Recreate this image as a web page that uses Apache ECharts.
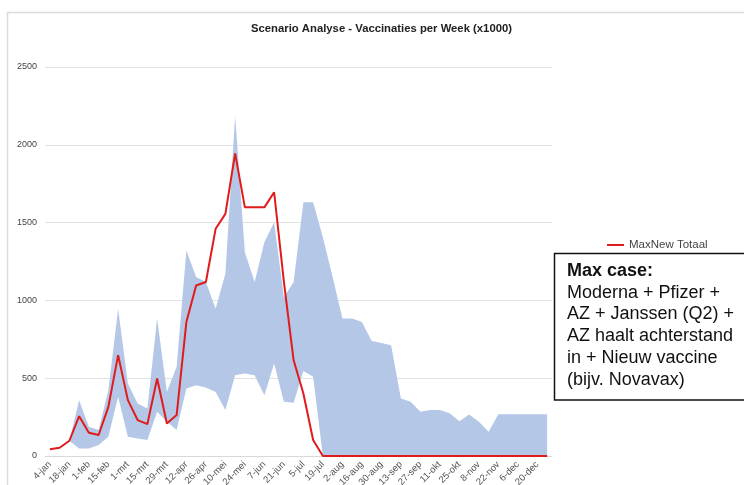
<!DOCTYPE html>
<html><head><meta charset="utf-8">
<script src="https://cdn.jsdelivr.net/npm/echarts@6/dist/echarts.min.js"></script>
<style>html,body{margin:0;padding:0;background:#fff}#c{width:744px;height:485px}</style>
</head><body><div id="c"></div>
<script>
const weeks = ['4-jan','11-jan','18-jan','25-jan','1-feb','8-feb','15-feb','22-feb','1-mrt','8-mrt','15-mrt','22-mrt','29-mrt','5-apr','12-apr','19-apr','26-apr','3-mei','10-mei','17-mei','24-mei','31-mei','7-jun','14-jun','21-jun','28-jun','5-jul','12-jul','19-jul','26-jul','2-aug','9-aug','16-aug','23-aug','30-aug','6-sep','13-sep','20-sep','27-sep','4-okt','11-okt','18-okt','25-okt','1-nov','8-nov','15-nov','22-nov','29-nov','6-dec','13-dec','20-dec','27-dec'];
const maxNewTotaal = [43,53,98,256,150,135,316,648,359,231,205,498,209,263,861,1096,1118,1460,1556,1945,1598,1598,1598,1695,1120,615,402,103,0,0,0,0,0,0,0,0,0,0,0,0,0,0,0,0,0,0,0,0,0,0,0,0];
const rangeUpper = [43,53,98,359,188,167,423,947,466,338,306,883,412,573,1321,1150,1118,947,1171,2186,1310,1118,1374,1502,1021,1118,1630,1630,1406,1150,883,883,861,739,727,712,370,348,284,295,295,274,224,267,220,156,269,269,269,269,269,269];
const rangeLower = [43,53,98,49,49,70,124,380,124,113,103,284,220,167,434,455,440,412,295,519,530,519,391,594,348,342,547,509,0,0,0,0,0,0,0,0,0,0,0,0,0,0,0,0,0,0,0,0,0,0,0,0];
const yTicks = [0,500,1000,1500,2000,2500];

const bandHeight = rangeUpper.map((u,i)=>u-rangeLower[i]);
const chart = echarts.init(document.getElementById('c'), null, {renderer:'canvas'});
const FONT = '"Liberation Sans", Arial, sans-serif';
chart.setOption({
  animation:false,
  backgroundColor:'#fff',
  title:{text:'Scenario Analyse - Vaccinaties per Week (x1000)',left:246,top:18,
    textStyle:{fontFamily:FONT,fontSize:11.3,fontWeight:'bold',color:'#222'}},
  legend:{data:['MaxNew Totaal'],left:602,top:234,icon:'rect',itemWidth:17,itemHeight:2,itemGap:2,
    textStyle:{fontFamily:FONT,fontSize:11.5,color:'#444'}},
  grid:{left:45,right:192,top:67,bottom:29,containLabel:false,outerBoundsMode:'none'},
  xAxis:{type:'category',data:weeks,boundaryGap:true,
    axisLine:{lineStyle:{color:'#d9d9d9'}},axisTick:{show:false},
    axisLabel:{interval:1,rotate:45,fontFamily:FONT,fontSize:9.5,color:'#555',margin:7}},
  yAxis:{type:'value',min:yTicks[0],max:yTicks[yTicks.length-1],interval:500,
    axisLine:{show:false},axisTick:{show:false},
    splitLine:{lineStyle:{color:'#e2e2e2'}},
    axisLabel:{fontFamily:FONT,fontSize:9,color:'#444',margin:8,formatter:v=>String(v)}},
  series:[
    {name:'lower',type:'line',stack:'band',data:rangeLower,symbol:'none',lineStyle:{width:0,opacity:0},silent:true},
    {name:'band',type:'line',stack:'band',data:bandHeight,symbol:'none',lineStyle:{width:0,opacity:0},
      areaStyle:{color:'#b4c7e7',opacity:1},silent:true},
    {name:'MaxNew Totaal',type:'line',data:maxNewTotaal,symbol:'none',
      lineStyle:{color:'#e01b1b',width:2},itemStyle:{color:'#e01b1b'}}
  ],
  graphic:[
    {type:'rect',shape:{x:7.5,y:12.5,width:800,height:600},style:{fill:'none',stroke:'#dcdcdc',lineWidth:1.5},z:-10},
    {type:'rect',shape:{x:554.5,y:253.5,width:220,height:146.5},style:{fill:'#fff',stroke:'#111',lineWidth:1.5}},
    {type:'text',left:567,top:260,style:{
      text:'{b|Max case:}\nModerna + Pfizer +\nAZ + Janssen (Q2) +\nAZ haalt achterstand\nin + Nieuw vaccine\n(bijv. Novavax)',
      fontFamily:FONT,fontSize:18,lineHeight:21.8,fill:'#111',
      rich:{b:{fontFamily:FONT,fontSize:18,fontWeight:'bold',lineHeight:21.8,fill:'#111'}}}}
  ]
});
</script></body></html>
